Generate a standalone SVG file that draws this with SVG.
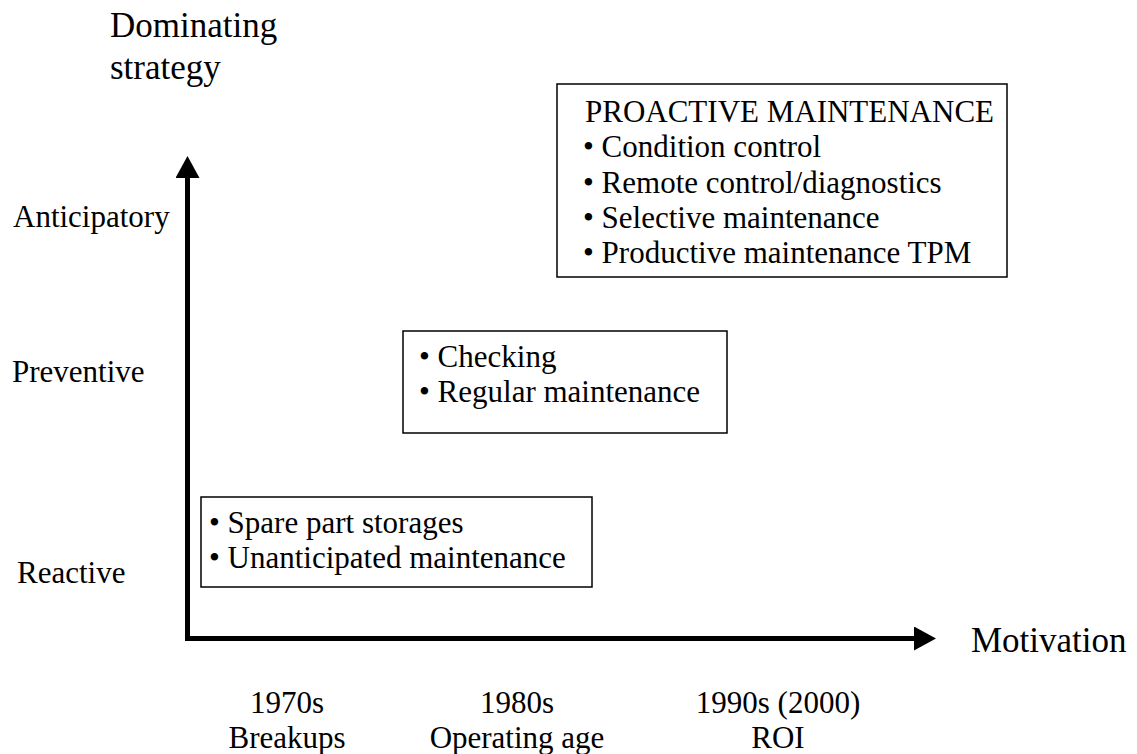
<svg xmlns="http://www.w3.org/2000/svg" width="1137" height="754" viewBox="0 0 1137 754" font-family="'Liberation Serif', 'Times New Roman', 'DejaVu Serif', serif">
<style>
text{font-family:'Liberation Serif','Times New Roman',Times,'DejaVu Serif',serif;fill:#000;font-size:31px}
.big{font-size:35px}
.mid{text-anchor:middle}
.box{fill:#fff;stroke:#000;stroke-width:1.5}
.axis{stroke:#000;stroke-width:5;fill:none}
</style>
<defs>
<marker id="ah" markerUnits="userSpaceOnUse" markerWidth="24" markerHeight="24" refX="2" refY="12" orient="auto" viewBox="0 0 22 24">
<path d="M0,0 L22,12 L0,24 Z" fill="#000"/>
</marker>
</defs>
<g id="axes-labels">
<text class="big" x="110" y="37">Dominating</text>
<text class="big" x="110" y="79">strategy</text>
<text x="13" y="227">Anticipatory</text>
<text x="12" y="382">Preventive</text>
<text x="17" y="583">Reactive</text>
<text class="big" x="971" y="652">Motivation</text>
</g>
<g id="connectors">
<path class="axis" d="M187.5,641 L187.5,176" marker-end="url(#ah)"/>
<path class="axis" d="M185,638.5 L916,638.5" marker-end="url(#ah)"/>
</g>
<g id="node-proactive">
<rect class="box" x="557" y="84" width="450" height="193"/>
<text x="585" y="122">PROACTIVE MAINTENANCE</text>
<text x="583" y="157">• Condition control</text>
<text x="583" y="193">• Remote control/diagnostics</text>
<text x="583" y="228">• Selective maintenance</text>
<text x="583" y="263">• Productive maintenance TPM</text>
</g>
<g id="node-preventive">
<rect class="box" x="403" y="331" width="324" height="102"/>
<text x="419" y="367">• Checking</text>
<text x="419" y="402">• Regular maintenance</text>
</g>
<g id="node-reactive">
<rect class="box" x="201" y="497" width="391" height="90"/>
<text x="209" y="533">• Spare part storages</text>
<text x="209" y="568">• Unanticipated maintenance</text>
</g>
<g id="period-1970s">
<text class="mid" x="287" y="713">1970s</text>
<text class="mid" x="287" y="748">Breakups</text>
</g>
<g id="period-1980s">
<text class="mid" x="517" y="713">1980s</text>
<text class="mid" x="517" y="748">Operating age</text>
</g>
<g id="period-1990s">
<text class="mid" x="778" y="713">1990s (2000)</text>
<text class="mid" x="778" y="748">ROI</text>
</g>
</svg>
